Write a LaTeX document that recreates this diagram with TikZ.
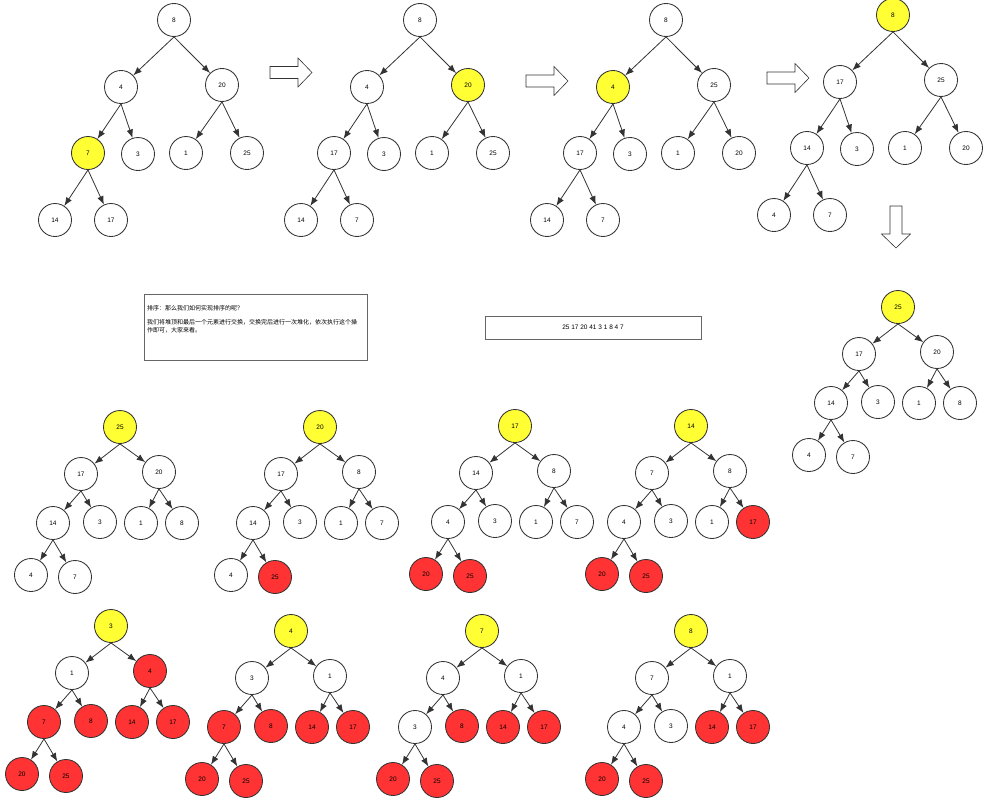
\documentclass[tikz,border=0pt]{standalone}
\usepackage{fontspec}
\setmainfont{Liberation Sans}
\newfontfamily\cjk{Noto Sans CJK SC}
\usetikzlibrary{arrows.meta}

\definecolor{heapyellow}{HTML}{FFFF33}
\definecolor{heapred}{HTML}{FF3333}
\definecolor{ink}{HTML}{333333}

% offsets of the nine heap slots from the root (px)
\def\bigX{{0,-53,48,-86,-36,12,73,-119,-63}}
\def\bigY{{0,67,65,133,134,133,133,200,200}}
\def\smlX{{0,-39,39,-67,-20,21,62,-89,-45}}
\def\smlY{{0,47,45,96,95,96,96,148,150}}

% #1 name, #2 root position, #3 layout, #4 label/style list
\newcommand{\heaptree}[4]{%
  \begin{scope}[shift={(#2)}]
    \foreach \lab/\sty [count=\k] in {#4} {
      \pgfmathsetmacro{\dx}{\csname #3X\endcsname[\k-1]}
      \pgfmathsetmacro{\dy}{\csname #3Y\endcsname[\k-1]}
      \node[ball,\sty] (#1-\k) at (\dx,\dy) {\lab};
    }
    \foreach \p/\c in {1/2,1/3,2/4,2/5,3/6,3/7,4/8,4/9}
      \draw[link] (#1-\p.south) -- (#1-\c);
  \end{scope}}

\begin{document}
\begin{tikzpicture}[x=1pt, y=-1pt,
  ball/.style={circle, draw=ink, line width=0.85pt, minimum size=33pt, inner sep=0pt,
    font=\fontsize{6.5}{7}\selectfont},
  wnode/.style={fill=white},
  ynode/.style={fill=heapyellow},
  rnode/.style={fill=heapred},
  link/.style={draw=ink, line width=0.8pt, -{Latex[length=8.5pt,width=6.5pt]}},
  boxline/.style={draw=black!60, line width=0.9pt},
  fatarrow/.pic={\draw[ink, line width=0.6pt, fill=white]
    (0,-6) -- (28,-6) -- (28,-14.5) -- (42,0) -- (28,14.5) -- (28,6) -- (0,6) -- cycle;}]
  \useasboundingbox (0,0) rectangle (989,803);

  % building the heap
  \heaptree{ta}{174,20}{big}{8/wnode,4/wnode,20/wnode,7/ynode,3/wnode,1/wnode,25/wnode,14/wnode,17/wnode}
  \heaptree{tb}{420,20}{big}{8/wnode,4/wnode,20/ynode,17/wnode,3/wnode,1/wnode,25/wnode,14/wnode,7/wnode}
  \heaptree{tc}{666,20}{big}{8/wnode,4/ynode,25/wnode,17/wnode,3/wnode,1/wnode,20/wnode,14/wnode,7/wnode}
  \heaptree{td}{893,15}{big}{8/ynode,17/wnode,25/wnode,14/wnode,3/wnode,1/wnode,20/wnode,4/wnode,7/wnode}
  \heaptree{te}{898,307}{sml}{25/ynode,17/wnode,20/wnode,14/wnode,3/wnode,1/wnode,8/wnode,4/wnode,7/wnode}

  % step arrows
  \pic at (270,72.5) {fatarrow};
  \pic at (526,81) {fatarrow};
  \pic at (767,78) {fatarrow};
  \pic[rotate=-90] at (896,206) {fatarrow};

  % notes
  \draw[boxline] (144,294) rectangle (367,360);
  \node[anchor=north west, align=left, inner sep=0pt, font=\cjk\fontsize{6}{8}\selectfont] (note) at (147,305)
    {排序：那么我们如何实现排序的呢？\\[6pt]
     我们将堆顶和最后一个元素进行交换，交换完后进行一次堆化，依次执行这个操\\作即可，大家来看。};
  \node[boxline, draw, minimum width=216pt, minimum height=23pt, font=\fontsize{6.5}{7}\selectfont] (arr)
    at (593,327.5) {25 17 20 41 3 1 8 4 7};

  % sorting
  \heaptree{sa}{120,427}{sml}{25/ynode,17/wnode,20/wnode,14/wnode,3/wnode,1/wnode,8/wnode,4/wnode,7/wnode}
  \heaptree{sb}{320,427}{sml}{20/ynode,17/wnode,8/wnode,14/wnode,3/wnode,1/wnode,7/wnode,4/wnode,25/rnode}
  \heaptree{sc}{515,426}{sml}{17/ynode,14/wnode,8/wnode,4/wnode,3/wnode,1/wnode,7/wnode,20/rnode,25/rnode}
  \heaptree{sd}{691,426}{sml}{14/ynode,7/wnode,8/wnode,4/wnode,3/wnode,1/wnode,17/rnode,20/rnode,25/rnode}
  \heaptree{se}{111,626}{sml}{3/ynode,1/wnode,4/rnode,7/rnode,8/rnode,14/rnode,17/rnode,20/rnode,25/rnode}
  \heaptree{sf}{291,631}{sml}{4/ynode,3/wnode,1/wnode,7/rnode,8/rnode,14/rnode,17/rnode,20/rnode,25/rnode}
  \heaptree{sg}{482,631}{sml}{7/ynode,4/wnode,1/wnode,3/wnode,8/rnode,14/rnode,17/rnode,20/rnode,25/rnode}
  \heaptree{sh}{691,631}{sml}{8/ynode,7/wnode,1/wnode,4/wnode,3/wnode,14/rnode,17/rnode,20/rnode,25/rnode}
\end{tikzpicture}
\end{document}
